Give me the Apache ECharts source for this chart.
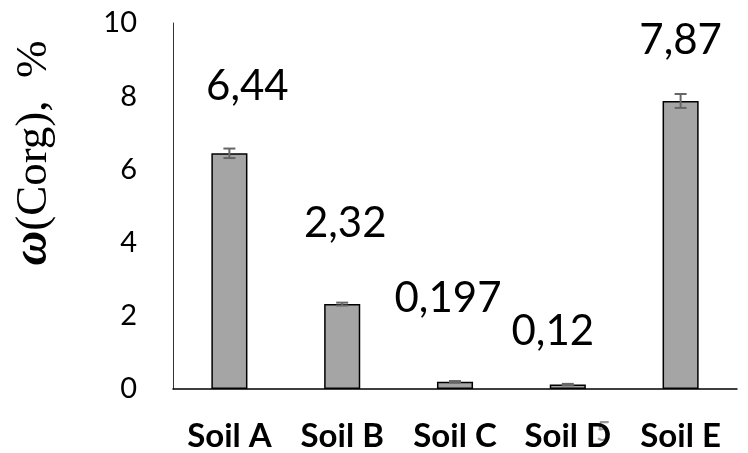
<!DOCTYPE html>
<html>
<head>
<meta charset="utf-8">
<script src="https://cdn.jsdelivr.net/npm/echarts@6/dist/echarts.min.js"></script>
<style>
  html, body { margin: 0; padding: 0; background: #fff; }
  #chart { width: 748px; height: 453px; }
</style>
</head>
<body>
<div id="chart"></div>
<script>
var soils = ['Soil A', 'Soil B', 'Soil C', 'Soil D', 'Soil E'];
var corg = [6.44, 2.32, 0.197, 0.12, 7.87];
var corgLabels = ['6,44', '2,32', '0,197', '0,12', '7,87'];
var corgErr = [0.13, 0.04, 0.02, 0.02, 0.19];
// label nudges (x, y) in px, the labels sit where they were dragged by hand
var labelNudge = [[18, -41], [3, -55], [-7, -57], [-15, -27], [0, -35]];

var chart = echarts.init(document.getElementById('chart'));
var font = 'Lato, "Open Sans", sans-serif';

var barData = corg.map(function(v, i) {
    return {
        value: v,
        label: {
            formatter: corgLabels[i],
            offset: labelNudge[i]
        }
    };
});

var errData = corg.map(function(v, i) {
    return [i, v - corgErr[i], v + corgErr[i]];
});

chart.setOption({
    animation: false,
    grid: { left: 173, right: 11, top: 23, bottom: 64 },
    xAxis: {
        type: 'category',
        data: soils,
        axisLine: { lineStyle: { color: '#000', width: 1.5 } },
        axisTick: { show: false },
        axisLabel: {
            color: '#000', fontFamily: font, fontWeight: 'bold',
            fontSize: 33, margin: 31
        }
    },
    yAxis: {
        type: 'value',
        min: 0, max: 10, interval: 2,
        splitLine: { show: false },
        axisLine: { show: true, lineStyle: { color: '#333', width: 1 } },
        axisTick: { show: false },
        axisLabel: { color: '#000', fontFamily: font, fontSize: 29, margin: 36 }
    },
    series: [{
        type: 'bar',
        data: barData,
        barWidth: '32%',
        itemStyle: { color: '#a5a5a5', borderColor: '#000', borderWidth: 1.5 },
        label: {
            show: true, position: 'top', color: '#000',
            fontFamily: font, fontSize: 42
        }
    }, {
        type: 'custom',
        data: errData,
        z: 5,
        renderItem: function(params, api) {
            var x = api.coord([api.value(0), 0])[0];
            var lo = api.coord([api.value(0), api.value(1)])[1];
            var hi = api.coord([api.value(0), api.value(2)])[1];
            var w = 6;
            var st = { stroke: '#666', lineWidth: 2 };
            return {
                type: 'group',
                children: [
                    { type: 'line', shape: { x1: x, y1: lo, x2: x, y2: hi }, style: st },
                    { type: 'line', shape: { x1: x - w, y1: lo, x2: x + w, y2: lo }, style: st },
                    { type: 'line', shape: { x1: x - w, y1: hi, x2: x + w, y2: hi }, style: st }
                ]
            };
        }
    }],
    graphic: [{
        type: 'text',
        x: 34, y: 153,
        rotation: Math.PI / 2,
        style: {
            text: '{w|ω}(Corg),  %',
            rich: {
                w: { fontFamily: '"Liberation Serif", serif', fontStyle: 'italic', fontWeight: 'bold', fontSize: 48, fill: '#000' }
            },
            font: '45px "Liberation Serif", serif',
            fill: '#000',
            align: 'center',
            verticalAlign: 'middle'
        }
    }, {
        type: 'text',
        x: 596, y: 420,
        style: { text: '5', font: '26px Lato, sans-serif', fill: '#999' }
    }]
});
</script>
</body>
</html>
